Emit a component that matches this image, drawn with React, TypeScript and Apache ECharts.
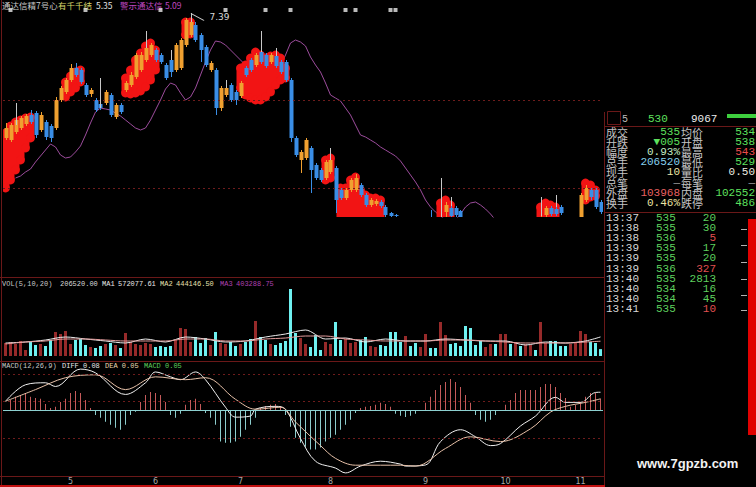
import React, { useEffect, useRef } from 'react';
import * as echarts from 'echarts';

// 日K线 [开, 收, 低, 高]
const ohlc: number[][] = [
  [6.14, 6.24, 6.12, 6.29], [6.12, 6.27, 6.10, 6.29], [6.20, 6.32, 6.18, 6.34], [6.24, 6.34, 6.22, 6.36], [6.28, 6.36, 6.26, 6.38],
  [6.37, 6.30, 6.28, 6.42], [6.39, 6.17, 6.14, 6.41], [6.22, 6.37, 6.20, 6.40], [6.30, 6.15, 6.12, 6.32], [6.26, 6.14, 6.10, 6.28],
  [6.24, 6.52, 6.22, 6.55], [6.52, 6.64, 6.50, 6.66], [6.60, 6.72, 6.58, 6.74], [6.72, 6.84, 6.70, 6.88], [6.84, 6.77, 6.75, 6.89],
  [6.82, 6.70, 6.68, 6.84], [6.67, 6.57, 6.55, 6.69], [6.58, 6.62, 6.55, 6.64], [6.52, 6.42, 6.40, 6.54], [6.48, 6.44, 6.42, 6.50],
  [6.49, 6.60, 6.47, 6.62], [6.57, 6.37, 6.35, 6.59], [6.35, 6.47, 6.33, 6.49], [6.47, 6.40, 6.38, 6.49], [6.62, 6.69, 6.60, 6.71],
  [6.67, 6.77, 6.65, 6.80], [6.75, 6.97, 6.73, 6.99], [6.82, 6.97, 6.80, 7.00], [6.92, 7.04, 6.90, 7.06], [6.97, 7.07, 6.95, 7.09],
  [7.02, 6.92, 6.90, 7.04], [6.97, 6.90, 6.88, 6.99], [6.87, 6.74, 6.72, 6.89], [6.92, 6.80, 6.75, 6.94], [6.82, 7.07, 6.80, 7.09],
  [6.84, 7.12, 6.82, 7.14], [7.07, 7.32, 7.05, 7.34], [7.17, 7.30, 7.15, 7.39], [7.27, 7.12, 7.10, 7.30], [7.17, 7.02, 6.90, 7.19],
  [7.05, 6.87, 6.85, 7.07], [6.82, 6.89, 6.80, 6.91], [6.82, 6.44, 6.37, 6.84], [6.44, 6.64, 6.41, 6.66], [6.57, 6.64, 6.55, 6.72],
  [6.67, 6.52, 6.50, 6.69], [6.60, 6.52, 6.47, 6.62], [6.56, 6.69, 6.54, 6.71], [6.84, 6.77, 6.75, 6.86], [6.92, 6.82, 6.80, 6.94],
  [6.87, 6.97, 6.85, 6.99], [7.00, 6.90, 6.88, 7.02], [6.97, 6.86, 6.84, 6.99], [6.90, 6.97, 6.88, 6.99], [6.96, 6.86, 6.84, 6.98],
  [6.90, 6.80, 6.78, 6.92], [6.90, 6.72, 6.70, 6.92], [6.72, 6.14, 6.10, 6.74], [6.14, 5.97, 5.95, 6.16], [5.92, 6.00, 5.79, 6.02],
  [5.94, 6.12, 5.92, 6.14], [6.04, 5.82, 5.59, 6.06], [5.87, 5.74, 5.72, 5.89], [5.82, 5.72, 5.70, 5.84], [5.74, 5.90, 5.72, 5.92],
  [5.80, 5.92, 5.78, 5.94], [5.84, 5.52, 5.39, 5.86], [5.62, 5.54, 5.52, 5.64], [5.54, 5.62, 5.52, 5.64], [5.62, 5.72, 5.60, 5.74],
  [5.62, 5.74, 5.60, 5.78], [5.67, 5.57, 5.55, 5.69], [5.57, 5.47, 5.45, 5.59], [5.47, 5.52, 5.45, 5.54], [5.48, 5.51, 5.46, 5.53],
  [5.50, 5.46, 5.44, 5.52], [5.45, 5.37, 5.35, 5.47], [5.39, 5.36, 5.34, 5.40], [5.37, 5.36, 5.33, 5.38], [5.32, 5.26, 5.24, 5.33],
  [5.22, 5.28, 5.20, 5.30], [5.27, 5.20, 5.18, 5.29], [5.20, 5.14, 5.12, 5.22], [5.13, 5.17, 5.10, 5.19], [5.16, 5.24, 5.14, 5.27],
  [5.26, 5.20, 5.18, 5.42], [5.22, 5.18, 5.16, 5.25], [5.18, 5.30, 5.16, 5.33], [5.40, 5.47, 5.30, 5.50], [5.44, 5.36, 5.30, 5.46],
  [5.44, 5.37, 5.34, 5.46], [5.41, 5.33, 5.30, 5.42], [5.32, 5.24, 5.22, 5.33], [5.25, 5.20, 5.18, 5.27], [5.21, 5.16, 5.14, 5.23],
  [5.17, 5.12, 5.10, 5.19], [5.12, 5.16, 5.10, 5.18], [5.15, 5.19, 5.13, 5.21], [5.19, 5.14, 5.12, 5.20], [5.14, 5.20, 5.12, 5.22],
  [5.19, 5.27, 5.17, 5.29], [5.27, 5.23, 5.21, 5.29], [5.23, 5.28, 5.21, 5.30], [5.28, 5.24, 5.22, 5.30], [5.24, 5.29, 5.22, 5.31],
  [5.28, 5.32, 5.26, 5.34], [5.32, 5.29, 5.27, 5.34], [5.29, 5.34, 5.27, 5.36], [5.37, 5.44, 5.35, 5.46], [5.44, 5.38, 5.36, 5.46],
  [5.43, 5.38, 5.36, 5.45], [5.45, 5.39, 5.37, 5.47], [5.32, 5.27, 5.25, 5.34], [5.26, 5.30, 5.24, 5.32], [5.28, 5.33, 5.26, 5.34],
  [5.30, 5.57, 5.28, 5.59], [5.52, 5.64, 5.50, 5.67], [5.62, 5.55, 5.52, 5.64], [5.62, 5.45, 5.43, 5.64], [5.50, 5.40, 5.38, 5.52],
];

// 成交量（手）
const volumes: number[] = [
  390000, 420000, 360000, 450000, 180000, 420000, 330000, 360000, 300000, 480000,
  720000, 660000, 750000, 360000, 480000, 510000, 330000, 270000, 240000, 300000,
  360000, 390000, 330000, 240000, 690000, 420000, 360000, 330000, 390000, 360000,
  270000, 300000, 270000, 300000, 480000, 840000, 810000, 420000, 570000, 390000,
  540000, 330000, 720000, 390000, 360000, 420000, 300000, 360000, 420000, 510000,
  1050000, 570000, 480000, 360000, 330000, 390000, 450000, 2010000, 690000, 540000,
  360000, 270000, 630000, 180000, 420000, 360000, 1020000, 480000, 510000, 390000,
  420000, 480000, 570000, 300000, 270000, 330000, 300000, 720000, 720000, 420000,
  600000, 300000, 390000, 270000, 660000, 240000, 240000, 1020000, 630000, 360000,
  390000, 300000, 900000, 840000, 330000, 450000, 270000, 360000, 360000, 660000,
  660000, 360000, 420000, 300000, 360000, 330000, 180000, 1020000, 390000, 450000,
  450000, 300000, 300000, 360000, 420000, 750000, 660000, 420000, 390000, 206520,
];

// 紫色均线
const purpleLine: (number | null)[] = [
  null, null, 5.74, 5.76, 5.80, 5.83, 5.90, 5.96, 6.02, 6.08,
  6.05, 5.97, 5.94, 5.95, 6.00, 6.06, 6.17, 6.29, 6.40, 6.44,
  6.43, 6.42, 6.39, 6.36, 6.32, 6.28, 6.24, 6.22, 6.24, 6.32,
  6.42, 6.52, 6.63, 6.69, 6.67, 6.59, 6.52, 6.55, 6.64, 6.77,
  6.90, 7.02, 7.11, 7.10, 7.07, 7.02, 6.97, 6.92, 6.87, 6.80,
  6.76, 6.75, 6.76, 6.78, 6.81, 6.86, 6.97, 7.09, 7.12, 7.10,
  7.06, 6.95, 6.87, 6.80, 6.69, 6.57, 6.54, 6.51, 6.44, 6.37,
  6.27, 6.17, 6.15, 6.12, 6.09, 6.05, 6.02, 5.99, 5.96, 5.91,
  5.84, 5.77, 5.70, 5.62, 5.52, 5.45, 5.40, 5.36, 5.32, 5.30,
  5.32, 5.38, 5.45, 5.49, 5.50, 5.47, 5.43, 5.38, 5.32, 5.27,
  null, null, null, null, null, null, null, null, null, null,
  null, null, null, null, null, null, null, null, null, null,
];

// 红色心形区块 [序号, 下沿, 上沿]
const blobs: number[][] = [
  [0, 5.64, 6.19], [1, 5.72, 6.26], [2, 5.82, 6.30], [3, 5.92, 6.32], [4, 6.04, 6.34], [5, 6.14, 6.35],
  [12, 6.55, 6.70], [13, 6.60, 6.76], [14, 6.64, 6.80], [15, 6.70, 6.82],
  [24, 6.59, 6.74], [25, 6.58, 6.82], [26, 6.59, 6.92], [27, 6.61, 6.99], [28, 6.65, 7.06], [29, 6.72, 7.09], [30, 6.82, 7.02],
  [36, 7.17, 7.30], [37, 7.18, 7.30],
  [47, 6.64, 6.84], [48, 6.57, 6.87], [49, 6.54, 6.94], [50, 6.52, 7.00], [51, 6.52, 6.97], [52, 6.55, 6.94],
  [53, 6.60, 6.96], [54, 6.67, 6.97], [55, 6.72, 6.94], [56, 6.74, 6.84],
  [64, 5.72, 5.92], [65, 5.74, 5.94],
  [67, 5.20, 5.64], [68, 5.20, 5.64], [69, 5.20, 5.72], [70, 5.20, 5.75], [71, 5.20, 5.62],
  [72, 5.20, 5.57], [73, 5.20, 5.54], [74, 5.20, 5.54], [75, 5.20, 5.52],
  [87, 5.20, 5.49], [88, 5.20, 5.52], [89, 5.20, 5.47],
  [107, 5.20, 5.45], [108, 5.20, 5.49], [109, 5.20, 5.47], [110, 5.20, 5.45],
  [116, 5.52, 5.69], [117, 5.55, 5.67], [118, 5.56, 5.62],
];

// 白色影线 [序号, 下端, 上端]
const shadows: number[][] = [
  [2, 6.27, 6.49], [19, 6.44, 6.74], [28, 7.04, 7.21], [33, 6.92, 7.02], [37, 7.30, 7.39],
  [44, 6.64, 6.72], [51, 7.00, 7.21], [54, 6.96, 7.04], [65, 5.92, 6.04],
  [87, 5.33, 5.74], [89, 5.46, 5.55], [107, 5.36, 5.55], [110, 5.45, 5.57],
];

// 顶部信号点
const signalIdx = [1, 16, 31, 44, 52, 57, 68, 70, 77, 78];
const signalLevel = 7.42;

// 成交量均线
const volMa1: number[][] = [
  [0, 390000], [4, 420000], [8, 480000], [12, 570000], [16, 510000], [20, 450000], [24, 390000], [28, 510000],
  [32, 420000], [36, 570000], [40, 510000], [44, 420000], [48, 450000], [52, 570000], [56, 660000], [60, 780000],
  [64, 510000], [68, 540000], [72, 420000], [76, 510000], [80, 450000], [84, 450000], [88, 510000], [92, 480000],
  [96, 450000], [100, 450000], [104, 330000], [108, 420000], [112, 390000], [116, 450000], [119, 572077.61],
];
const volMa2: number[][] = [
  [0, 360000], [4, 420000], [8, 450000], [12, 510000], [16, 510000], [20, 480000], [24, 450000], [28, 450000],
  [32, 450000], [36, 510000], [40, 510000], [44, 450000], [48, 450000], [52, 510000], [56, 540000], [60, 600000],
  [64, 600000], [68, 510000], [72, 480000], [76, 450000], [80, 450000], [84, 450000], [88, 480000], [92, 480000],
  [96, 450000], [100, 420000], [104, 390000], [108, 390000], [112, 390000], [116, 420000], [119, 444146.5],
];

// MACD 柱
const macdHist: number[] = [
  0, 0.045, 0.059, 0.068, 0.077, 0.059, 0.054, 0.05, 0.027, 0.009,
  0.014, 0.036, 0.05, 0.077, 0.086, 0.077, 0.045, 0.009, -0.023, -0.036,
  -0.054, -0.068, -0.081, -0.09, -0.068, -0.023, -0.009, 0.036, 0.068, 0.081,
  0.077, 0.068, 0.036, -0.023, -0.036, -0.018, 0.023, 0.045, 0.05, 0.027,
  -0.014, -0.036, -0.068, -0.144, -0.149, -0.149, -0.144, -0.122, -0.09, -0.068,
  -0.036, 0.009, 0.018, 0.023, 0.027, 0.018, -0.023, -0.077, -0.126, -0.149,
  -0.167, -0.18, -0.18, -0.171, -0.144, -0.126, -0.113, -0.09, -0.068, -0.045,
  -0.014, 0.009, 0.014, 0.018, 0.023, 0.032, 0.027, 0.014, -0.018, -0.027,
  -0.032, -0.027, -0.018, -0.005, 0.032, 0.059, 0.09, 0.113, 0.126, 0.14,
  0.126, 0.104, 0.068, 0.032, -0.023, -0.045, -0.054, -0.045, -0.023, -0.005,
  0.023, 0.045, 0.077, 0.09, 0.09, 0.09, 0.09, 0.104, 0.117, 0.117,
  0.104, 0.077, 0.054, 0.014, 0.023, 0.036, 0.059, 0.077, 0.077, 0.05,
];
const diffPts: number[][] = [
  [0, 0.039], [4, 0.114], [8, 0.123], [10, 0.106], [15, 0.185], [18, 0.168], [24, 0.07], [28, 0.123],
  [30, 0.172], [33, 0.15], [35, 0.137], [38, 0.172], [40, 0.137], [44, 0.012], [46, -0.033], [49, -0.028],
  [50, 0.003], [54, 0.016], [56, 0.003], [59, -0.13], [62, -0.233], [66, -0.264], [68, -0.286], [71, -0.255],
  [75, -0.233], [79, -0.246], [80, -0.255], [84, -0.25], [87, -0.144], [91, -0.09], [94, -0.122], [97, -0.162],
  [99, -0.153], [103, -0.073], [106, -0.028], [110, 0.057], [112, 0.034], [115, 0.034], [118, 0.079], [119, 0.08],
];
const deaPts: number[][] = [
  [0, 0.039], [6, 0.092], [12, 0.146], [18, 0.159], [24, 0.092], [30, 0.15], [36, 0.137], [40, 0.146],
  [46, 0.048], [50, 0.003], [55, 0.012], [58, -0.055], [63, -0.162], [66, -0.22], [70, -0.251], [75, -0.251],
  [79, -0.251], [82, -0.255], [88, -0.175], [93, -0.122], [99, -0.144], [105, -0.086], [109, -0.01], [112, 0.016],
  [116, 0.034], [119, 0.05],
];

// 月份刻度 [序号, 标签]
const monthTicks: [number, string][] = [[13, '5'], [30, '6'], [47, '7'], [65, '8'], [84, '9'], [100, '10'], [115, '11']];

// 盘口
const quoteHead = ['5', '530', '9067'];
const quoteRows: string[][] = [
  ['成交', '535', '#5ee05e', '均价', '534', '#5ee05e'],
  ['升跌', '▼005', '#5ee05e', '开盘', '538', '#5ee05e'],
  ['幅度', '0.93%', '#c4ecc4', '最高', '543', '#ef4b4b'],
  ['总手', '206520', '#86d0ef', '最低', '529', '#5ee05e'],
  ['现手', '10', '#ece4a4', '量比', '0.50', '#ecece0'],
  ['总笔', '—', '#9a9a9a', '每笔', '—', '#9a9a9a'],
  ['外盘', '103968', '#e86060', '内盘', '102552', '#5ee05e'],
  ['换手', '0.46%', '#ece4a4', '跌停', '486', '#5ee05e'],
];
// 分笔成交 [时间, 价格, 手数, 方向]
const ticks: string[][] = [
  ['13:37', '535', '20', 'S'], ['13:38', '535', '30', 'S'], ['13:38', '536', '5', 'B'],
  ['13:39', '535', '17', 'S'], ['13:39', '535', '20', 'S'], ['13:39', '536', '327', 'B'],
  ['13:40', '535', '2813', 'S'], ['13:40', '534', '16', 'S'], ['13:40', '534', '45', 'S'],
  ['13:41', '535', '10', 'B'],
];

const titleParts: [number, string, string][] = [
  [2, '通达信精7号心', '#c8c8c8'], [58, '有千千结', '#d6d66a'], [96, '5.35', '#e0e0e0'],
  [120, '警示通达信', '#c048c0'], [165, '5.09', '#c048c0'],
];
const volLabel: [number, string, string][] = [
  [2, 'VOL(5,10,20)', '#c8c8c8'], [60, '206520.00', '#d8d8d8'], [102, 'MA1', '#e8e8e8'], [118, '572077.61', '#e8e8e8'],
  [160, 'MA2', '#e8e0b0'], [176, '444146.50', '#e8e0b0'], [220, 'MA3', '#b040b0'], [236, '403288.75', '#b040b0'],
];
const macdLabel: [number, string, string][] = [
  [2, 'MACD(12,26,9)', '#c8c8c8'], [62, 'DIFF 0.08', '#e8e8e8'], [105, 'DEA 0.05', '#e8d8b0'], [144, 'MACD 0.05', '#5ed05e'],
];

const categories = ohlc.map((_, i) => String(i));
const monthAt = new Map<number, string>(monthTicks);
const hiIdx = ohlc.reduce((best, d, i) => (d[3] > ohlc[best][3] ? i : best), 0);

const UP = '#f0a030';
const DOWN = '#3a8ee6';
const BORDER = '#6a1818';
const CJK = '"Noto Sans CJK SC"';
const MONO = '"Liberation Mono", "DejaVu Sans Mono", "Noto Sans CJK SC"';

function txt(x: number, y: number, text: string, fill: string, font: string, align = 'left') {
  return {
    type: 'text', x, y, silent: true,
    style: { text, fill, font, lineHeight: 10, align, textAlign: align, verticalAlign: 'middle', textVerticalAlign: 'middle' },
  };
}
function ln(x1: number, y1: number, x2: number, y2: number, stroke: string, lineWidth = 1) {
  return { type: 'line', silent: true, shape: { x1, y1, x2, y2 }, style: { stroke, lineWidth } };
}

function buildGraphic() {
  const g: any[] = [];
  // 面板边框
  g.push(ln(1.5, 0, 1.5, 487, BORDER));
  g.push(ln(604.5, 112, 604.5, 487, BORDER));
  g.push(ln(0, 277.5, 604, 277.5, BORDER));
  g.push(ln(0, 361.5, 604, 361.5, BORDER));
  g.push(ln(0, 476.5, 604, 476.5, BORDER));
  g.push({ type: 'rect', silent: true, shape: { x: 0, y: 485, width: 605, height: 2 }, style: { fill: '#c01010' } });
  g.push(ln(605, 126.5, 756, 126.5, BORDER));
  g.push(ln(605, 212.5, 756, 212.5, BORDER));
  g.push({ type: 'rect', silent: true, shape: { x: 607.5, y: 111.5, width: 13, height: 13 }, style: { fill: 'none', stroke: BORDER } });

  titleParts.forEach(([x, t, c]) => g.push(txt(x, 5, t, c, `8.5px ${CJK}`)));
  volLabel.forEach(([x, t, c]) => g.push(txt(x, 284, t, c, `7px ${MONO}`)));
  macdLabel.forEach(([x, t, c]) => g.push(txt(x, 366, t, c, `7px ${MONO}`)));

  // 盘口表头
  g.push(txt(622, 119, quoteHead[0], '#bdbdbd', `10px ${MONO}`));
  g.push(txt(648, 119, quoteHead[1], '#5ee05e', `11px ${MONO}`));
  g.push(txt(691, 119, quoteHead[2], '#ececec', `11px ${MONO}`));
  g.push({ type: 'rect', silent: true, shape: { x: 727, y: 114, width: 29, height: 4 }, style: { fill: '#3ecf3e' } });

  quoteRows.forEach((r, k) => {
    const y = 132 + k * 10.1;
    g.push(txt(606, y, r[0], '#c4c4c4', `11px ${CJK}`));
    g.push(txt(680, y, r[1], r[2], `11px ${MONO}`, 'right'));
    g.push(txt(681, y, r[3], '#c4c4c4', `11px ${CJK}`));
    g.push(txt(755, y, r[4], r[5], `11px ${MONO}`, 'right'));
  });
  ticks.forEach((t, k) => {
    const y = 218 + k * 10.1;
    g.push(txt(606, y, t[0], '#d8d8d8', `11px ${MONO}`));
    g.push(txt(656, y, t[1], '#5ed05e', `11px ${MONO}`));
    g.push(txt(716, y, t[2], t[3] === 'B' ? '#e05050' : '#5ed05e', `11px ${MONO}`, 'right'));
  });
  [229, 245, 262, 279, 295, 310].forEach((y) => g.push(ln(741, y + 0.5, 747, y + 0.5, '#b0b0b0')));
  g.push({ type: 'rect', silent: true, shape: { x: 748, y: 219, width: 8, height: 216 }, style: { fill: '#e00000' } });

  g.push(txt(637, 463, 'www.7gpzb.com', '#f2f2f2', `bold 13px "Liberation Sans", Arial, sans-serif`));
  return g;
}

function buildOption(): any {
  const xAxes = [0, 1, 2].map((gi) => ({
    type: 'category',
    gridIndex: gi,
    data: categories,
    boundaryGap: true,
    axisLine: { show: false },
    axisTick: { show: false },
    splitLine: { show: false },
    axisLabel:
      gi === 2
        ? {
            show: true,
            interval: (idx: number) => monthAt.has(idx),
            formatter: (_v: string, idx: number) => monthAt.get(idx) ?? '',
            color: '#a8a8a8',
            fontSize: 8,
            fontFamily: 'DejaVu Sans',
            margin: 1,
          }
        : { show: false },
  }));

  const blobSeries = {
    type: 'custom',
    name: 'blob',
    xAxisIndex: 0,
    yAxisIndex: 0,
    clip: true,
    z: 2,
    data: blobs,
    encode: { x: 0, y: [1, 2] },
    renderItem: (_p: any, api: any) => {
      const i = api.value(0);
      const top = api.coord([i, api.value(2)]);
      const bot = api.coord([i, api.value(1)]);
      const style = { fill: '#f21414' };
      const w = 8;
      const r = 4.4;
      return {
        type: 'group',
        children: [
          { type: 'rect', shape: { x: top[0] - w / 2, y: top[1], width: w, height: Math.max(bot[1] - top[1], 0) }, style },
          { type: 'circle', shape: { cx: top[0], cy: top[1], r }, style },
          { type: 'circle', shape: { cx: bot[0], cy: bot[1], r }, style },
        ],
      };
    },
  };

  // K线：实体与影线，超出价格区的部分被裁掉
  const candleSeries = {
    type: 'custom',
    name: 'K',
    xAxisIndex: 0,
    yAxisIndex: 0,
    clip: true,
    z: 3,
    data: ohlc.map((d, i) => [i, d[0], d[1], d[2], d[3]]),
    encode: { x: 0, y: [1, 2, 3, 4] },
    renderItem: (_p: any, api: any) => {
      const i = api.value(0);
      const o = api.value(1);
      const c = api.value(2);
      const pO = api.coord([i, o]);
      const pC = api.coord([i, c]);
      const pL = api.coord([i, api.value(3)]);
      const pH = api.coord([i, api.value(4)]);
      const color = c >= o ? UP : DOWN;
      const x = Math.round(pO[0]) + 0.5;
      const top = Math.min(pO[1], pC[1]);
      const h = Math.max(Math.abs(pO[1] - pC[1]), 1);
      return {
        type: 'group',
        children: [
          { type: 'line', shape: { x1: x, y1: pH[1], x2: x, y2: pL[1] }, style: { stroke: color, lineWidth: 1 } },
          { type: 'rect', shape: { x: x - 2, y: top, width: 4, height: h }, style: { fill: color } },
        ],
      };
    },
    markPoint: {
      symbol: 'path://M0,0L13,7',
      symbolSize: [13, 7],
      symbolOffset: [7, 4],
      itemStyle: { color: 'none', borderColor: '#d0d0d0', borderWidth: 1 },
      label: {
        show: true,
        position: 'right',
        distance: 2,
        color: '#d8d8d8',
        fontSize: 9,
        fontFamily: 'DejaVu Sans',
        formatter: (p: any) => Number(p.value).toFixed(2),
      },
      data: [{ coord: [hiIdx, ohlc[hiIdx][3]], value: ohlc[hiIdx][3] }],
    },
  };

  const shadowSeries = {
    type: 'custom',
    name: 'shadow',
    xAxisIndex: 0,
    yAxisIndex: 0,
    clip: true,
    z: 4,
    data: shadows,
    encode: { x: 0, y: [1, 2] },
    renderItem: (_p: any, api: any) => {
      const i = api.value(0);
      const top = api.coord([i, api.value(2)]);
      const bot = api.coord([i, api.value(1)]);
      const x = Math.round(top[0]) + 0.5;
      return { type: 'line', shape: { x1: x, y1: top[1], x2: x, y2: bot[1] }, style: { stroke: '#c8c8c8', lineWidth: 1 } };
    },
  };

  return {
    backgroundColor: '#000',
    animation: false,
    grid: [
      { left: 3, top: 8, width: 600, height: 209 },
      { left: 3, top: 280, width: 600, height: 76 },
      { left: 3, top: 368, width: 600, height: 108 },
    ],
    xAxis: xAxes,
    yAxis: [
      { type: 'value', gridIndex: 0, min: 5.35, max: 7.44, show: false },
      { type: 'value', gridIndex: 1, min: 0, max: 2280000, show: false },
      { type: 'value', gridIndex: 2, min: -0.3, max: 0.19, show: false },
    ],
    graphic: buildGraphic(),
    series: [
      {
        type: 'line',
        name: 'MA',
        xAxisIndex: 0,
        yAxisIndex: 0,
        data: purpleLine,
        symbol: 'none',
        z: 1,
        clip: true,
        lineStyle: { color: '#9c4c9c', width: 1 },
        markLine: {
          silent: true,
          symbol: 'none',
          label: { show: false },
          lineStyle: { color: '#6e1c1c', type: [2, 3], width: 1 },
          data: [{ yAxis: 6.52 }, { yAxis: 5.64 }],
        },
      },
      blobSeries,
      candleSeries,
      shadowSeries,
      {
        type: 'scatter',
        name: 'signal',
        xAxisIndex: 0,
        yAxisIndex: 0,
        symbol: 'rect',
        symbolSize: 4,
        z: 5,
        itemStyle: { color: '#e8e8e8' },
        data: signalIdx.map((i) => [i, signalLevel]),
      },
      {
        type: 'bar',
        name: 'VOL',
        xAxisIndex: 1,
        yAxisIndex: 1,
        data: volumes,
        barWidth: 3,
        itemStyle: {
          color: (p: any) => (ohlc[p.dataIndex][1] >= ohlc[p.dataIndex][0] ? '#962a2a' : '#6ef0f0'),
        },
      },
      {
        type: 'line',
        name: 'MA1',
        xAxisIndex: 1,
        yAxisIndex: 1,
        data: volMa1,
        symbol: 'none',
        smooth: 0.3,
        lineStyle: { color: '#ececec', width: 1 },
      },
      {
        type: 'line',
        name: 'MA2',
        xAxisIndex: 1,
        yAxisIndex: 1,
        data: volMa2,
        symbol: 'none',
        smooth: 0.3,
        lineStyle: { color: '#e29c9c', width: 1 },
      },
      {
        type: 'bar',
        name: 'MACD',
        xAxisIndex: 2,
        yAxisIndex: 2,
        data: macdHist,
        barWidth: 1,
        itemStyle: { color: (p: any) => (p.value >= 0 ? '#c45a5a' : '#8ccccc') },
        markLine: {
          silent: true,
          symbol: 'none',
          label: { show: false },
          data: [
            { yAxis: 0, lineStyle: { color: '#8cd0d0', type: 'solid', width: 1 } },
            { yAxis: 0.035, lineStyle: { color: '#6e1c1c', type: [2, 3], width: 1 } },
            { yAxis: 0.16, lineStyle: { color: '#6e1c1c', type: [2, 3], width: 1 } },
            { yAxis: -0.13, lineStyle: { color: '#6e1c1c', type: [2, 3], width: 1 } },
          ],
        },
      },
      {
        type: 'line',
        name: 'DIFF',
        xAxisIndex: 2,
        yAxisIndex: 2,
        data: diffPts,
        symbol: 'none',
        smooth: 0.35,
        lineStyle: { color: '#f0f0f0', width: 1 },
      },
      {
        type: 'line',
        name: 'DEA',
        xAxisIndex: 2,
        yAxisIndex: 2,
        data: deaPts,
        symbol: 'none',
        smooth: 0.35,
        lineStyle: { color: '#e6c0a8', width: 1 },
      },
    ],
  };
}

export default function App() {
  const ref = useRef<HTMLDivElement>(null);
  useEffect(() => {
    if (!ref.current) return;
    const chart = echarts.init(ref.current, null, { renderer: 'svg' });
    chart.setOption(buildOption());
    return () => chart.dispose();
  }, []);
  return (
    <div
      ref={ref}
      style={{ position: 'absolute', left: 0, top: 0, width: 756, height: 487, background: '#000' }}
    />
  );
}
